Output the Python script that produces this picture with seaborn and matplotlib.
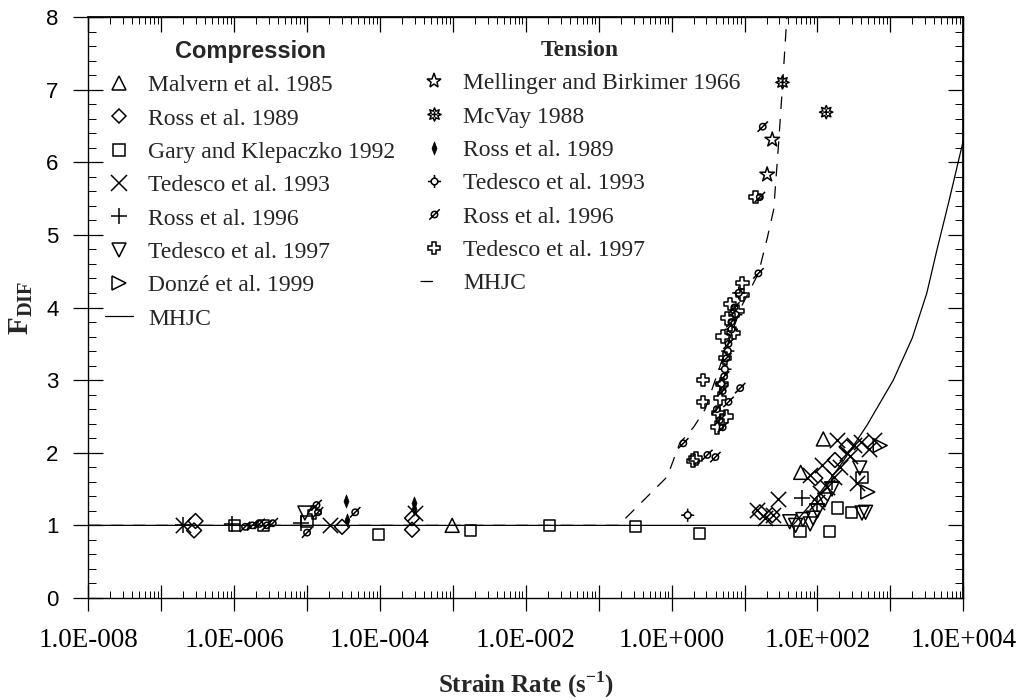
import numpy as np
import matplotlib
matplotlib.use("Agg")
import matplotlib.pyplot as plt
from matplotlib.path import Path
from matplotlib.markers import MarkerStyle
from matplotlib.lines import Line2D
from matplotlib.ticker import LogLocator, MultipleLocator, FuncFormatter, NullFormatter
import seaborn as sns

# ---------------------------------------------------------------------------
# Data: log10 of strain rate (1/s) and dynamic increase factor F_DIF
# ---------------------------------------------------------------------------
# Compression tests
malvern_1985_log = [-3.01, 1.77, 2.08]
malvern_1985_dif = [1.00, 1.73, 2.19]

ross_1989c_log = [-6.53, -6.55, -4.52, -3.56, -3.56, 1.21, 1.38, 1.97, 2.24, 2.40]
ross_1989c_dif = [1.06, 0.93, 0.98, 0.94, 1.10, 1.18, 1.14, 1.65, 1.90, 2.08]

gary_1992_log = [-5.99, -5.60, -5.00, -4.02, -2.76, -1.67, -0.49, 0.38, 1.76, 2.17, 2.28, 2.47, 2.61]
gary_1992_dif = [1.00, 1.00, 1.05, 0.87, 0.93, 1.00, 0.98, 0.89, 0.91, 0.91, 1.24, 1.18, 1.66]

tedesco_1993c_log = [-6.70, -4.68, -3.52, 1.17, 1.28, 1.39, 1.46, 1.90, 1.99, 2.03, 2.06, 2.13,
                     2.22, 2.27, 2.31, 2.40, 2.45, 2.50, 2.54, 2.60, 2.70, 2.77]
tedesco_1993c_dif = [1.00, 1.00, 1.17, 1.21, 1.10, 1.14, 1.37, 1.69, 1.32, 1.44, 1.83, 1.53,
                     1.67, 2.18, 1.80, 2.00, 1.95, 2.10, 1.58, 2.15, 2.05, 2.17]

ross_1996c_log = [-6.70, -6.03, -5.08, 1.79, 2.00, 2.20]
ross_1996c_dif = [1.00, 1.02, 1.03, 1.38, 1.30, 1.60]

tedesco_1997c_log = [-5.03, 1.62, 1.70, 1.80, 1.90, 1.94, 2.00, 2.10, 2.20, 2.58, 2.61, 2.66]
tedesco_1997c_dif = [1.17, 1.05, 1.00, 1.08, 1.02, 1.10, 1.20, 1.35, 1.50, 1.79, 1.17, 1.18]

donze_1999_log = [2.69, 2.86]
donze_1999_dif = [1.46, 2.10]

# Tension tests
mellinger_1966_log = [1.31, 1.38]
mellinger_1966_dif = [5.83, 6.31]

mcvay_1988_log = [1.52, 2.12]
mcvay_1988_dif = [7.10, 6.69]

ross_1989t_log = [-4.46, -4.45, -3.54, -3.54]
ross_1989t_dif = [1.34, 1.07, 1.31, 1.22]

tedesco_1993t_log = [0.22, 0.68, 0.73, 0.77, 0.82, 0.88, 0.92]
tedesco_1993t_dif = [1.14, 2.95, 3.15, 3.40, 3.70, 3.90, 4.20]

ross_1996t_log = [-5.85, -5.75, -5.65, -5.55, -5.47, -5.00, -4.87, -4.85, -4.34,
                  0.16, 0.49, 0.60, 0.62, 0.66, 0.70, 0.70, 0.72, 0.75, 0.78, 0.78,
                  0.82, 0.86, 0.94, 1.19, 1.21, 1.25]
ross_1996t_dif = [0.98, 1.00, 1.02, 1.00, 1.03, 0.90, 1.28, 1.18, 1.18,
                  2.13, 1.97, 1.94, 2.60, 2.45, 2.85, 2.35, 3.05, 3.30, 3.50, 2.70,
                  3.80, 4.00, 2.89, 4.47, 5.52, 6.49]

tedesco_1997t_log = [-4.90, 0.29, 0.33, 0.43, 0.43, 0.62, 0.64, 0.66, 0.69, 0.70, 0.73,
                     0.75, 0.76, 0.80, 0.85, 0.90, 0.97, 0.97, 1.15]
tedesco_1997t_dif = [1.18, 1.89, 1.92, 3.00, 2.70, 2.35, 2.55, 2.75, 2.95, 3.60, 3.30,
                     2.50, 3.85, 4.05, 3.65, 3.95, 4.34, 4.17, 5.52]

# MHJC model curves
mhjc_comp_log = [-8.0, 1.66, 1.99, 2.31, 2.68, 3.04, 3.30, 3.50, 3.64, 3.80, 4.0]
mhjc_comp_dif = [1.00, 1.00, 1.39, 1.82, 2.38, 3.00, 3.58, 4.20, 4.80, 5.45, 6.30]

mhjc_tens_log = [-8.0, -0.73, -0.06, 0.11, 0.30, 0.46, 0.70, 0.95, 1.19, 1.31, 1.40, 1.47, 1.53, 1.58]
mhjc_tens_dif = [1.00, 1.00, 1.67, 2.13, 2.35, 2.60, 3.30, 4.00, 4.47, 4.95, 5.35, 6.30, 7.20, 8.00]

x_tick_exponents = [-8, -6, -4, -2, 0, 2, 4]

# ---------------------------------------------------------------------------
# Styling
# ---------------------------------------------------------------------------
sns.set_theme(style="ticks")
plt.rcParams["font.family"] = ["Liberation Serif", "DejaVu Sans"]
plt.rcParams["mathtext.fontset"] = "custom"
plt.rcParams["mathtext.rm"] = "Liberation Serif"
plt.rcParams["mathtext.bf"] = "Liberation Serif:bold"
plt.rcParams["axes.edgecolor"] = "black"
plt.rcParams["xtick.color"] = "black"
plt.rcParams["ytick.color"] = "black"


def compound(*parts):
    return Path.make_compound_path(*parts)


def seg(p0, p1):
    return Path([p0, p1], [Path.MOVETO, Path.LINETO])


crosshair = compound(Path.circle((0, 0), 0.5), seg((0.5, 0), (1, 0)), seg((-0.5, 0), (-1, 0)),
                     seg((0, 0.5), (0, 1)), seg((0, -0.5), (0, -1)))
slashed = compound(Path.circle((0, 0), 0.55), seg((-0.9, -0.9), (0.9, 0.9)))
burst = compound(Path.unit_regular_star(8, innerCircle=0.55),
                 seg((-0.45, 0), (0.45, 0)), seg((0, -0.45), (0, 0.45)))
thin_diamond = Path([(0, 1), (0.38, 0), (0, -1), (-0.38, 0), (0, 1)],
                    [Path.MOVETO, Path.LINETO, Path.LINETO, Path.LINETO, Path.CLOSEPOLY])


def hollow(m):
    return MarkerStyle(m, fillstyle="none")


compression = [
    ("Malvern et al. 1985", malvern_1985_log, malvern_1985_dif, hollow("^"), 10.0),
    ("Ross et al. 1989", ross_1989c_log, ross_1989c_dif, hollow("D"), 7.6),
    ("Gary and Klepaczko 1992", gary_1992_log, gary_1992_dif, hollow("s"), 8.0),
    ("Tedesco et al. 1993", tedesco_1993c_log, tedesco_1993c_dif, MarkerStyle("x"), 11.0),
    ("Ross et al. 1996", ross_1996c_log, ross_1996c_dif, MarkerStyle("+"), 11.5),
    ("Tedesco et al. 1997", tedesco_1997c_log, tedesco_1997c_dif, hollow("v"), 10.0),
    ("Donzé et al. 1999", donze_1999_log, donze_1999_dif, hollow(">"), 10.0),
]
tension = [
    ("Mellinger and Birkimer 1966", mellinger_1966_log, mellinger_1966_dif, hollow("*"), 11.0),
    ("McVay 1988", mcvay_1988_log, mcvay_1988_dif, hollow(burst), 9.5),
    ("Ross et al. 1989", ross_1989t_log, ross_1989t_dif, MarkerStyle(thin_diamond), 9.5),
    ("Tedesco et al. 1993", tedesco_1993t_log, tedesco_1993t_dif, hollow(crosshair), 9.5),
    ("Ross et al. 1996", ross_1996t_log, ross_1996t_dif, hollow(slashed), 7.5),
    ("Tedesco et al. 1997", tedesco_1997t_log, tedesco_1997t_dif, hollow("P"), 9.0),
]

fig = plt.figure(figsize=(10.24, 7.0), dpi=100)
L, R, T, B = 88.3, 963.3, 17.0, 598.0
ax = fig.add_axes([L / 1024, 1 - B / 700, (R - L) / 1024, (B - T) / 700])
ax.set_xscale("log")

# Model curves
sns.lineplot(x=10.0 ** np.array(mhjc_comp_log), y=mhjc_comp_dif, ax=ax, color="black",
             lw=0.9, estimator=None, sort=False, legend=False, zorder=2)
sns.lineplot(x=10.0 ** np.array(mhjc_tens_log), y=mhjc_tens_dif, ax=ax, color="black",
             lw=0.9, linestyle=(0, (10, 8)), estimator=None, sort=False, legend=False, zorder=2)

# Test data
for label, lx, fy, mk, ms in compression + tension:
    kw = dict(marker=mk, s=ms ** 2, linewidth=1.1, color="black", zorder=3)
    if mk.is_filled():
        kw["edgecolor"] = "black"
        kw["linewidth"] = 0.5
    sns.scatterplot(x=10.0 ** np.array(lx), y=fy, ax=ax, legend=False, **kw)

ax.set_xlim(1e-8, 1e4)
ax.set_ylim(0, 8)

# Axis ticks: bottom/left ticks cross the spine, top/right point inward
ax.xaxis.set_major_locator(LogLocator(base=10, numticks=30))
ax.xaxis.set_minor_locator(LogLocator(base=10, subs=np.arange(2, 10), numticks=300))


def sci_label(v, pos):
    e = int(round(np.log10(v)))
    return f"1.0E{e:+04d}" if e in x_tick_exponents else ""


ax.xaxis.set_major_formatter(FuncFormatter(sci_label))
ax.xaxis.set_minor_formatter(NullFormatter())
ax.yaxis.set_major_locator(MultipleLocator(1))
ax.yaxis.set_minor_locator(MultipleLocator(0.2))
ax.tick_params(axis="x", which="major", direction="inout", length=19, width=0.9, pad=12,
               labelsize=19.5, top=False)
ax.tick_params(axis="x", which="minor", direction="in", length=5, width=0.7, top=False)
ax.tick_params(axis="y", which="major", direction="inout", length=21, width=0.9, pad=11,
               labelsize=16, right=False)
ax.tick_params(axis="y", which="minor", direction="in", length=5.5, width=0.7, right=False)
for t in ax.get_yticklabels():
    t.set_fontfamily("Liberation Sans")

top = ax.secondary_xaxis("top")
top.xaxis.set_major_locator(LogLocator(base=10, numticks=30))
top.xaxis.set_minor_locator(LogLocator(base=10, subs=np.arange(2, 10), numticks=300))
top.xaxis.set_major_formatter(NullFormatter())
top.xaxis.set_minor_formatter(NullFormatter())
top.tick_params(which="major", direction="in", length=11, width=0.9)
top.tick_params(which="minor", direction="in", length=5, width=0.7)

right = ax.secondary_yaxis("right")
right.yaxis.set_major_locator(MultipleLocator(1))
right.yaxis.set_minor_locator(MultipleLocator(0.2))
right.yaxis.set_major_formatter(NullFormatter())
right.tick_params(which="major", direction="in", length=11, width=0.9)
right.tick_params(which="minor", direction="in", length=5.5, width=0.7)

for sp in ax.spines.values():
    sp.set_linewidth(1.0)

ax.set_xlabel(r"Strain Rate (s$^{\mathbf{-1}}$)", fontsize=18, fontweight="bold",
              family="Liberation Serif", labelpad=12)
ax.set_ylabel(r"$\mathbf{F_{DIF}}$", fontsize=21, labelpad=8)

# Legends
def handle(mk, ms):
    return Line2D([], [], marker=mk, markersize=ms, linestyle="none", color="black",
                  markeredgewidth=1.1 if not mk.is_filled() else 0.5, markeredgecolor="black")


comp_handles = [handle(mk, ms) for _, _, _, mk, ms in compression]
comp_handles.append(Line2D([], [], color="black", lw=0.9))
comp_labels = [c[0] for c in compression] + ["MHJC"]
tens_handles = [handle(mk, ms) for _, _, _, mk, ms in tension]
tens_handles.append(Line2D([], [], color="black", lw=0.9, linestyle=(0, (10, 30))))
tens_labels = [t[0] for t in tension] + ["MHJC"]

common = dict(frameon=False, borderpad=0, borderaxespad=0, handlelength=1.2,
              handletextpad=0.62, labelspacing=0.5, loc="upper left",
              bbox_transform=fig.transFigure,
              prop={"family": "Liberation Serif", "size": 17})
leg1 = ax.legend(comp_handles, comp_labels, title="Compression",
                 bbox_to_anchor=(105 / 1024, 1 - 40 / 700),
                 title_fontproperties={"family": "Liberation Sans", "weight": "bold", "size": 17},
                 **common)
ax.add_artist(leg1)
leg2 = ax.legend(tens_handles, tens_labels, title="Tension",
                 bbox_to_anchor=(420 / 1024, 1 - 40 / 700),
                 title_fontproperties={"family": "Liberation Serif", "weight": "bold", "size": 17},
                 **common)

fig.savefig("out.png", dpi=100)
